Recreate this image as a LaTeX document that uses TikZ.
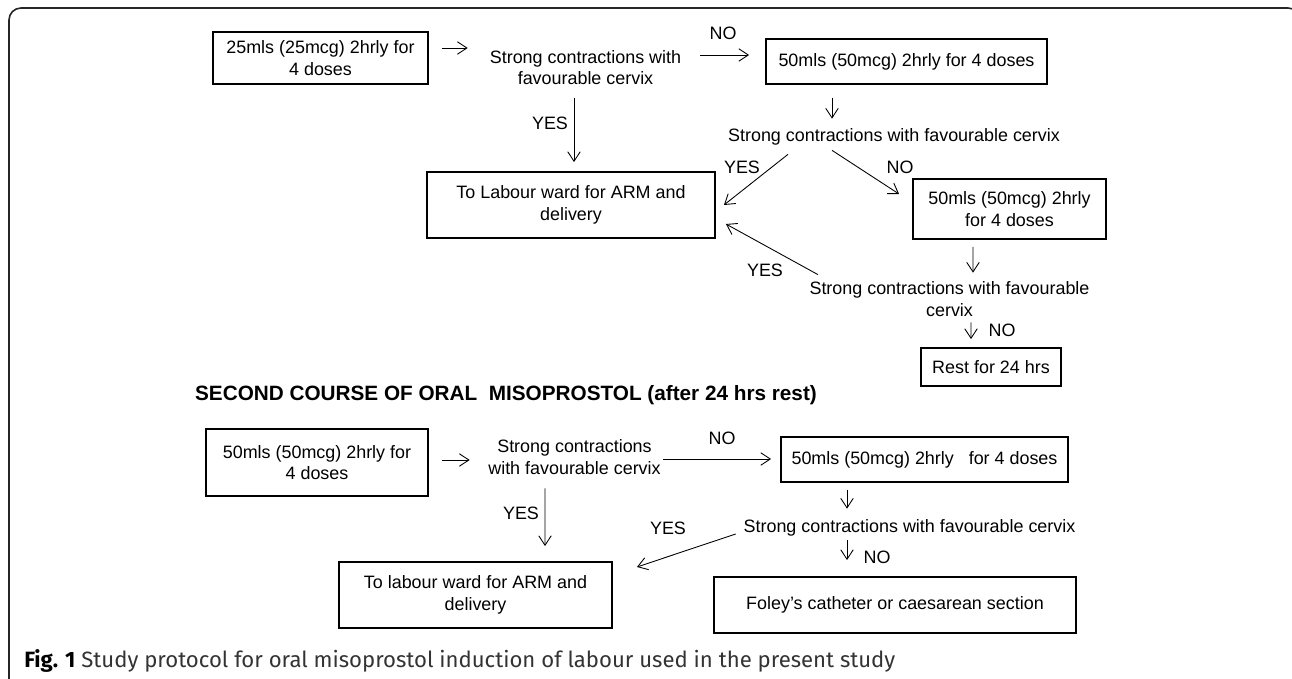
\documentclass[tikz,border=0pt]{standalone}
\usepackage{fontspec}
\setmainfont{Liberation Sans}
\newfontfamily\capfont{Fira Sans}
\usetikzlibrary{arrows.meta}
\newcommand{\dtext}{\fontsize{10.2}{12.4}\selectfont}% text size of the chart

\begin{document}
\begin{tikzpicture}[x=0.02cm,y=-0.02cm,
  box/.style={draw,line width=1.1pt,align=center,inner sep=0pt,font=\dtext},
  txt/.style={align=center,inner sep=0pt,font=\dtext},
  lbl/.style={inner sep=0pt,font=\dtext},
  arr/.style={-{Straight Barb[length=1.9mm,width=2.5mm]},line width=0.5pt}]
\useasboundingbox (0,0) rectangle (1292,679);

%%%%% frame
\begin{scope}
\clip (0,0) rectangle (1292,679);
\draw[line width=0.9pt,black!85,rounded corners=0.24cm] (9,8) rectangle (1300,692);
\end{scope}

%%%%% first course
\node[box,minimum width=4.3cm,minimum height=1.04cm] (doseA) at (320.5,58) {25mls (25mcg) 2hrly for\\4 doses};
\node[txt,minimum width=3.86cm,minimum height=0.78cm] (check1) at (585.5,67.5) {Strong contractions with\\favourable cervix};
\node[box,minimum width=5.62cm,minimum height=0.9cm] (doseB) at (906.5,61.5) {50mls (50mcg) 2hrly for 4 doses};
\node[box,minimum width=5.76cm,minimum height=1.32cm] (ward1) at (571,205) {To Labour ward for ARM and\\delivery};
\node[txt,minimum width=6.68cm,minimum height=0.36cm] (check2) at (894,137) {Strong contractions with favourable cervix};
\node[box,minimum width=3.86cm,minimum height=1.2cm] (doseC) at (1009.5,209) {50mls (50mcg) 2hrly\\for 4 doses};
\node[txt,minimum width=5.58cm,minimum height=0.8cm] (check3) at (949.5,299) {Strong contractions with favourable\\cervix};
\node[box,minimum width=2.8cm,minimum height=0.76cm] (rest) at (991,367) {Rest for 24 hrs};

\draw[arr] ([shift={(13,-10)}]doseA.east) -- ([shift={(-21,-19.5)}]check1.west);
\draw[arr] ([shift={(18,-12.5)}]check1.east) -- ([shift={(-16,-6.5)}]doseB.west);
\draw[arr] ([shift={(-11.5,11)}]check1.south) -- ([shift={(3,-9)}]ward1.north);
\draw[arr] ([shift={(-74.5,13)}]doseB.south) -- ([shift={(-62,-9)}]check2.north);
\draw[arr] ([shift={(-106,8)}]check2.south) -- ([shift={(8,0)}]ward1.east);
\draw[arr] ([shift={(-62,4)}]check2.south) -- ([shift={(-13,-15)}]doseC.west);
\draw[arr] ([shift={(-36.5,7)}]doseC.south) -- ([shift={(23.5,-6)}]check3.north);
\draw[arr] ([shift={(-131.5,-4)}]check3.north) -- ([shift={(10,19)}]ward1.east);
\draw[arr] ([shift={(21.5,3)}]check3.south) -- ([shift={(-20,-8)}]rest.north);

\node[lbl] (no1) at (723,33) {NO};
\node[lbl] (yes1) at (550,123) {YES};
\node[lbl] (yes2) at (742,167) {YES};
\node[lbl] (no2) at (900,167) {NO};
\node[lbl] (yes3) at (765,270) {YES};
\node[lbl] (no3) at (1002,330) {NO};

%%%%% second course
\node[inner sep=0pt,font=\fontsize{11.8}{14}\selectfont\bfseries] (head) at (506,395) {SECOND COURSE OF ORAL\ \ MISOPROSTOL (after 24 hrs rest)};

\node[box,minimum width=4.44cm,minimum height=1.34cm] (doseD) at (317,462.5) {50mls (50mcg) 2hrly for\\4 doses};
\node[txt,minimum width=3.46cm,minimum height=0.76cm] (check4) at (574.5,457) {Strong contractions\\with favourable cervix};
\node[box,minimum width=5.74cm,minimum height=0.9cm] (doseE) at (924.5,459.5) {50mls\ (50mcg)\ 2hrly\ \ \ for 4 doses};
\node[box,minimum width=5.46cm,minimum height=1.32cm] (ward2) at (475.5,595) {To labour ward for ARM and\\delivery};
\node[txt,minimum width=6.7cm,minimum height=0.36cm] (check5) at (909.5,528) {Strong contractions with favourable cervix};
\node[box,minimum width=7.24cm,minimum height=1.12cm] (foley) at (895,605) {Foley’s catheter or caesarean section};

\draw[arr] ([shift={(13,-2.5)}]doseD.east) -- ([shift={(-18,3)}]check4.west);
\draw[arr] ([shift={(2,2)}]check4.east) -- ([shift={(-9,-0.5)}]doseE.west);
\draw[arr] ([shift={(-29.5,12)}]check4.south) -- ([shift={(69.5,-15)}]ward2.north);
\draw[arr] ([shift={(-77.5,7)}]doseE.south) -- ([shift={(-62.5,-10)}]check5.north);
\draw[arr] ([shift={(-6,6)}]check5.west) -- ([shift={(24,-28)}]ward2.east);
\draw[arr] ([shift={(-62.5,3)}]check5.south) -- ([shift={(-48,-16)}]foley.north);

\node[lbl] (no4) at (722,438) {NO};
\node[lbl] (yes4) at (521,513) {YES};
\node[lbl] (yes5) at (668,528) {YES};
\node[lbl] (no5) at (877,557) {NO};

%%%%% caption
\node[anchor=west,inner sep=0pt,text=black!80] (cap) at (24,661) {\capfont\fontsize{12.6}{14}\selectfont\textbf{\color{black}Fig. 1} Study protocol for oral misoprostol induction of labour used in the present study};

\end{tikzpicture}
\end{document}
